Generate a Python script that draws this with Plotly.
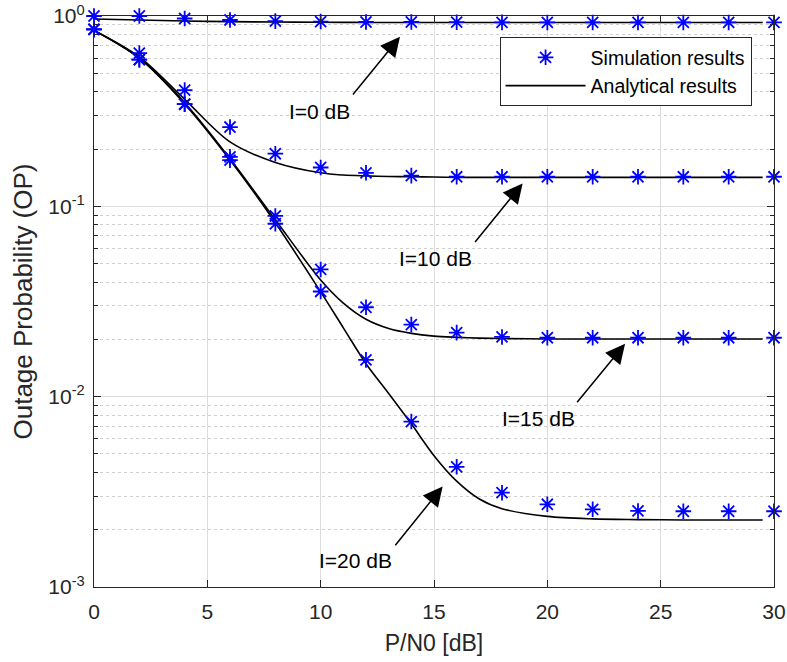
import plotly.graph_objects as go

# P/N0 grid (dB) for simulation points
sim_x = [0, 2, 4, 6, 8, 10, 12, 14, 16, 18, 20, 22, 24, 26, 28, 30]
sim_i0 = [1.0, 1.0, 0.97, 0.953, 0.94, 0.935, 0.93, 0.93, 0.928, 0.926, 0.925, 0.925, 0.925, 0.925, 0.925, 0.925]
sim_i10 = [0.85, 0.638, 0.408, 0.261, 0.189, 0.160, 0.150, 0.145, 0.143, 0.143, 0.143, 0.143, 0.143, 0.143, 0.143, 0.143]
sim_i15 = [0.85, 0.59, 0.344, 0.182, 0.089, 0.0466, 0.0295, 0.0239, 0.0217, 0.0206, 0.0204, 0.0204, 0.0204, 0.0204, 0.0204, 0.0204]
sim_i20 = [0.85, 0.59, 0.344, 0.175, 0.081, 0.0357, 0.0156, 0.0074, 0.00428, 0.00313, 0.00272, 0.00256, 0.00251, 0.0025, 0.0025, 0.0025]

# analytical curves
ana_x = [0, 2, 4, 6, 8, 10, 11, 12, 13, 14, 15, 16, 17, 18, 20, 22, 24, 26, 28, 29.5]
ana_i0 = [0.964, 0.953, 0.941, 0.934, 0.93, 0.927, 0.926, 0.925, 0.925, 0.925, 0.925, 0.925, 0.925, 0.925, 0.925, 0.925, 0.925, 0.925, 0.925, 0.925]
ana_i10 = [0.84, 0.61, 0.365, 0.218, 0.170, 0.150, 0.146, 0.1445, 0.1435, 0.143, 0.1425, 0.142, 0.142, 0.142, 0.142, 0.142, 0.142, 0.142, 0.142, 0.142]
ana_i15 = [0.84, 0.60, 0.35, 0.178, 0.085, 0.041, 0.031, 0.0255, 0.0228, 0.0215, 0.0208, 0.0205, 0.0203, 0.0202, 0.0201, 0.0201, 0.0201, 0.0201, 0.0201, 0.0201]
ana_i20 = [0.84, 0.60, 0.345, 0.175, 0.082, 0.0355, 0.023, 0.0149, 0.0104, 0.0072, 0.0049, 0.0036, 0.0029, 0.00258, 0.00235, 0.00228, 0.00226, 0.00225, 0.00225, 0.00225]

x_ticks = [0, 5, 10, 15, 20, 25, 30]
y_ticks = [0.001, 0.01, 0.1, 1]
y_ticktext = ["10<sup>-3</sup>", "10<sup>-2</sup>", "10<sup>-1</sup>", "10<sup>0</sup>"]
y_minor = [m * 10.0 ** e for e in (-3, -2, -1) for m in range(2, 10)]

# (label, text position, arrow tail, arrow head) as (P/N0, log10 OP)
labels = [
    ("I=0 dB", (9.97, -0.50), (11.37, -0.42), (13.5, -0.109)),
    ("I=10 dB", (15.07, -1.274), (16.76, -1.195), (18.91, -0.880)),
    ("I=15 dB", (19.59, -2.116), (21.26, -2.037), (23.43, -1.722)),
    ("I=20 dB", (11.54, -2.863), (13.24, -2.789), (15.38, -2.472)),
]

FONT = "Liberation Sans, Arial, Helvetica, sans-serif"
AXIS_COLOR = "#262626"

fig = go.Figure()

for i, ys in enumerate([ana_i0, ana_i10, ana_i15, ana_i20]):
    fig.add_trace(go.Scatter(
        x=ana_x, y=ys, mode="lines",
        line=dict(color="black", width=1.6, shape="spline", smoothing=0.9),
        name="Analytical results", legendgroup="ana", showlegend=(i == 0),
        legendrank=2,
    ))

for i, ys in enumerate([sim_i0, sim_i10, sim_i15, sim_i20]):
    fig.add_trace(go.Scatter(
        x=sim_x, y=ys, mode="markers",
        marker=dict(symbol="asterisk-open", size=13, color="#0000ff",
                    line=dict(color="#0000ff", width=1.8)),
        name="Simulation results", legendgroup="sim", showlegend=(i == 0),
        legendrank=1, cliponaxis=False,
    ))

for text, (tx, ty), (ax, ay), (hx, hy) in labels:
    fig.add_annotation(
        x=hx, y=hy, ax=ax, ay=ay, xref="x", yref="y", axref="x", ayref="y",
        text="", showarrow=True, arrowhead=2, arrowsize=2.6, arrowwidth=1.5,
        arrowcolor="black", standoff=0, startstandoff=0,
    )
    fig.add_annotation(
        x=tx, y=ty, xref="x", yref="y", text=text, showarrow=False,
        font=dict(family=FONT, size=21, color="black"),
        xanchor="center", yanchor="middle",
    )

fig.update_xaxes(
    range=[0, 30], tickvals=x_ticks, ticks="inside", ticklen=7,
    tickcolor=AXIS_COLOR, showline=True, linecolor=AXIS_COLOR, linewidth=1.2,
    mirror="ticks", showgrid=True, gridcolor="#dcdcdc", gridwidth=1,
    zeroline=False, automargin=False, ticklabelstandoff=6,
    tickfont=dict(family=FONT, size=21, color=AXIS_COLOR),
    title=dict(text="P/N0 [dB]", font=dict(family=FONT, size=23, color=AXIS_COLOR),
               standoff=12),
)
fig.update_yaxes(
    type="log", range=[-3, 0], tickvals=y_ticks, ticktext=y_ticktext,
    ticks="inside", ticklen=7, tickcolor=AXIS_COLOR, showline=True,
    linecolor=AXIS_COLOR, linewidth=1.2, mirror="ticks", showgrid=True,
    gridcolor="#dcdcdc", gridwidth=1, zeroline=False, automargin=False,
    ticklabelstandoff=4,
    tickfont=dict(family=FONT, size=21, color=AXIS_COLOR),
    minor=dict(tickvals=y_minor, ticks="inside", ticklen=4, tickcolor=AXIS_COLOR,
               showgrid=True, gridcolor="#cfcfcf", griddash="dot", gridwidth=1),
    title=dict(text="Outage Probability (OP)",
               font=dict(family=FONT, size=26, color=AXIS_COLOR), standoff=8),
)

fig.update_layout(
    width=787, height=662,
    margin=dict(l=94, r=13, t=16, b=75),
    paper_bgcolor="white", plot_bgcolor="white",
    legend=dict(
        x=0.967, y=0.963, xanchor="right", yanchor="top",
        bgcolor="white", bordercolor="#262626", borderwidth=1,
        font=dict(family=FONT, size=19.5, color="black"),
        traceorder="normal", itemwidth=80,
    ),
)

fig.write_html("out.html")
